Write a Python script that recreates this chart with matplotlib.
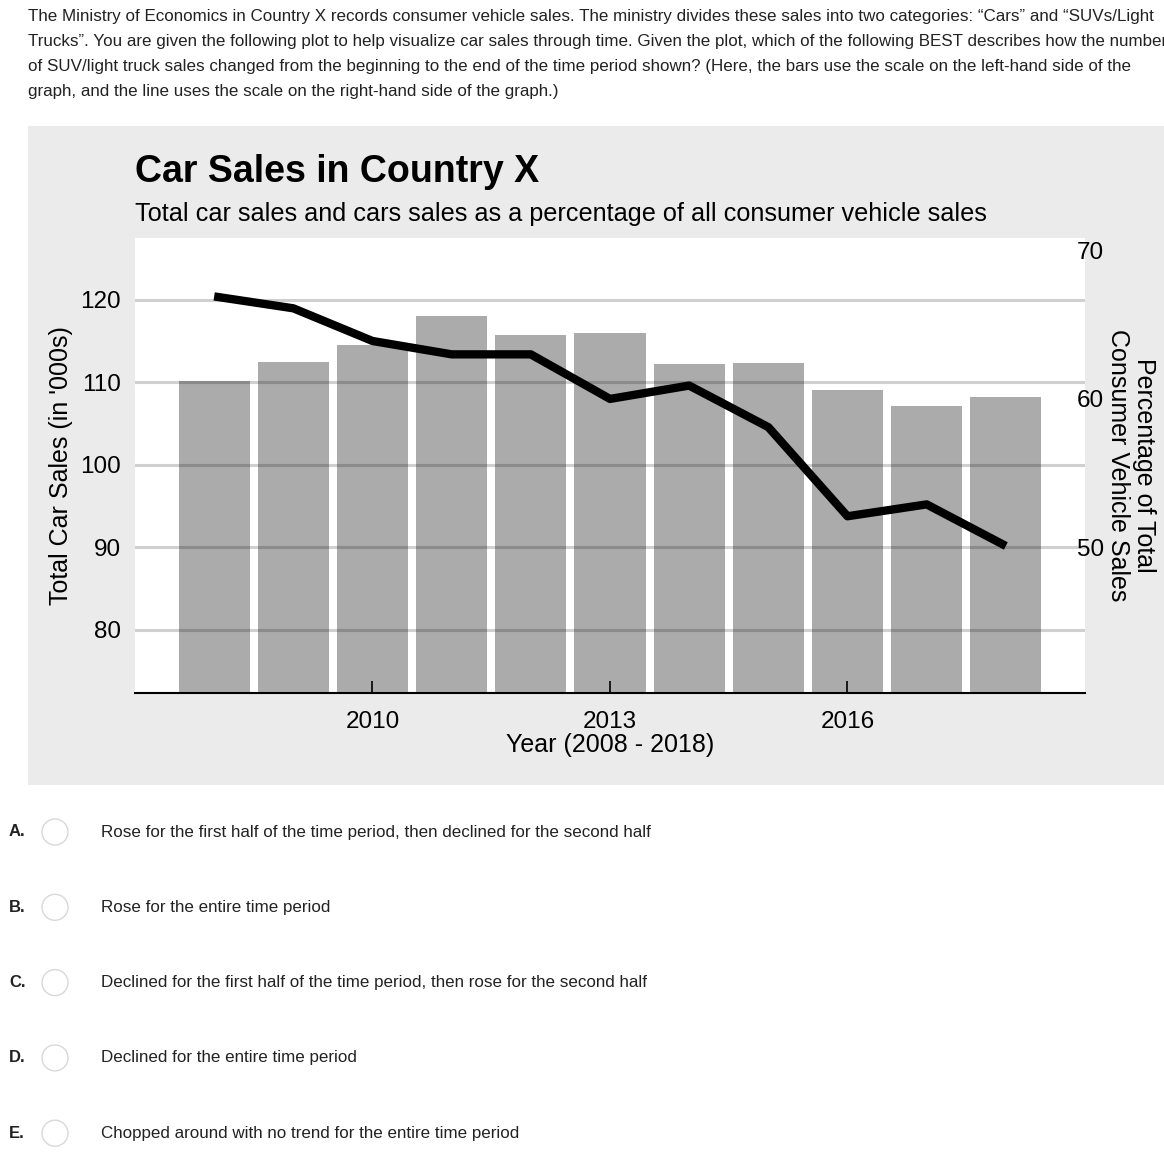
import numpy as np
import matplotlib.pyplot as plt
from matplotlib.patches import Rectangle, Ellipse

plt.rcParams['font.family'] = ['Liberation Sans', 'DejaVu Sans']

# data
years = [2008, 2009, 2010, 2011, 2012, 2013, 2014, 2015, 2016, 2017, 2018]
car_sales = [110.2, 112.5, 114.5, 118.0, 115.8, 116.0, 112.2, 112.4, 109.1, 107.1, 108.2]
car_share = [66.9, 66.1, 63.9, 63.0, 63.0, 60.0, 60.9, 58.1, 52.1, 52.9, 50.1]
left_ticks = [80, 90, 100, 110, 120]
right_ticks = [50, 60, 70]
x_ticks = [2010, 2013, 2016]

question = [
    "The Ministry of Economics in Country X records consumer vehicle sales. The ministry divides these sales into two categories: \u201cCars\u201d and \u201cSUVs/Light",
    "Trucks\u201d. You are given the following plot to help visualize car sales through time. Given the plot, which of the following BEST describes how the number",
    "of SUV/light truck sales changed from the beginning to the end of the time period shown? (Here, the bars use the scale on the left-hand side of the",
    "graph, and the line uses the scale on the right-hand side of the graph.)",
]
options = ["A.", "B.", "C.", "D.", "E."]
answers = [
    "Rose for the first half of the time period, then declined for the second half",
    "Rose for the entire time period",
    "Declined for the first half of the time period, then rose for the second half",
    "Declined for the entire time period",
    "Chopped around with no trend for the entire time period",
]

W, H = 1164, 1176
fig = plt.figure(figsize=(W / 100, H / 100), dpi=100)

def fx(px):
    return px / W

def fy(py):
    return 1 - py / H

# question text (the second line runs off the right edge, as in the original)
for i, line in enumerate(question):
    fig.text(fx(28), fy(17 + i * 24.7), line, fontsize=12.25, color="#222222", va="center", ha="left")

# grey panel behind the chart
fig.patches.append(Rectangle((fx(28), fy(785)), 1 - fx(28), fy(126) - fy(785),
                             transform=fig.transFigure, facecolor="#ebebeb", edgecolor="none", zorder=-1))

fig.text(fx(135), fy(182), "Car Sales in Country X", fontsize=27, fontweight="bold", va="baseline")
fig.text(fx(135), fy(221), "Total car sales and cars sales as a percentage of all consumer vehicle sales",
         fontsize=18.2, va="baseline")

ax = fig.add_axes([fx(135), fy(692.7), fx(1085) - fx(135), fy(238) - fy(692.7)])
ax.set_facecolor("white")
ax.bar(years, car_sales, width=0.9, color="black", alpha=0.33, zorder=2)
ax.set_xlim(2007, 2019)
ax.set_ylim(72.4, 127.5)
ax.set_yticks(left_ticks)
ax.set_xticks(x_ticks)
ax.grid(axis="y", color="#d0d0d0", linewidth=2.2, zorder=1)
ax.set_axisbelow(True)
for s in ["top", "right", "left"]:
    ax.spines[s].set_visible(False)
ax.spines["bottom"].set_linewidth(1.5)
ax.tick_params(axis="y", length=0, labelsize=17.5, pad=10)
ax.tick_params(axis="x", direction="in", length=9, width=1.2, labelsize=17.5, pad=13)
ax.set_xlabel("Year (2008 - 2018)", fontsize=18, labelpad=0)
ax.set_ylabel("Total Car Sales (in '000s)", fontsize=18, va="center")
ax.yaxis.set_label_coords(-0.078, 0.5)

ax2 = ax.twinx()
ax2.plot(years, car_share, color="black", linewidth=6, solid_capstyle="butt", zorder=3)
ax2.set_ylim(72.4 / 1.8, 127.5 / 1.8)
ax2.set_yticks(right_ticks)
for s in ["top", "right", "left", "bottom"]:
    ax2.spines[s].set_visible(False)
ax2.tick_params(axis="y", length=0, labelsize=17.5, pad=-6)
ax2.set_ylabel("Percentage of Total\nConsumer Vehicle Sales", fontsize=18, rotation=270,
               va="center", ha="center", linespacing=1.1)
ax2.yaxis.set_label_coords(1.0485, 0.5)

# answer options
for i, (letter, txt) in enumerate(zip(options, answers)):
    y = 832 + i * 75.3
    fig.text(fx(9), fy(y), letter, fontsize=12, fontweight="bold", va="center", color="#222222")
    fig.patches.append(Ellipse((fx(55), fy(y)), 26 / W, 26 / H, transform=fig.transFigure,
                               facecolor="white", edgecolor="#d8d8d8", linewidth=1))
    fig.text(fx(101), fy(y), txt, fontsize=12.25, va="center", color="#222222")

fig.savefig("out.png", dpi=100)
